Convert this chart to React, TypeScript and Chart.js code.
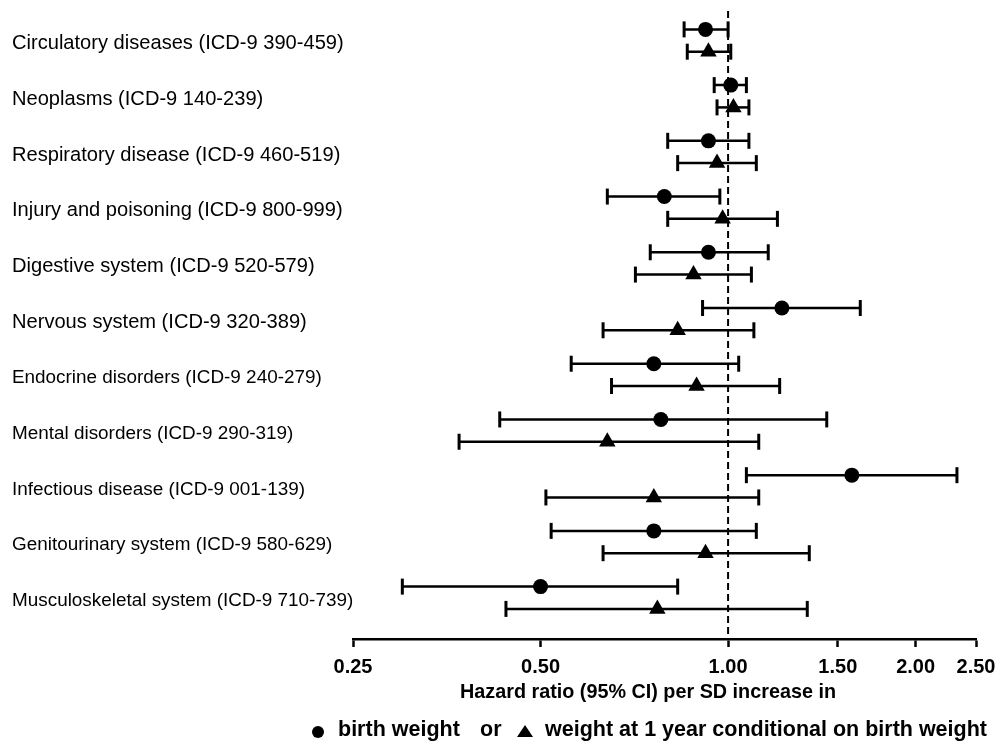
import React, { useEffect, useRef } from "react";
import { Chart, registerables } from "chart.js";

Chart.register(...registerables);

const categories = [
  "Circulatory diseases (ICD-9 390-459)",
  "Neoplasms (ICD-9 140-239)",
  "Respiratory disease (ICD-9 460-519)",
  "Injury and poisoning (ICD-9 800-999)",
  "Digestive system (ICD-9 520-579)",
  "Nervous system (ICD-9 320-389)",
  "Endocrine disorders (ICD-9 240-279)",
  "Mental disorders (ICD-9 290-319)",
  "Infectious disease (ICD-9 001-139)",
  "Genitourinary system (ICD-9 580-629)",
  "Musculoskeletal system (ICD-9 710-739)",
];

// Hazard ratio per SD increase in birth weight (circles)
const birthHR = [0.92, 1.01, 0.93, 0.79, 0.93, 1.22, 0.76, 0.78, 1.58, 0.76, 0.5];
const birthLo = [0.85, 0.95, 0.8, 0.64, 0.75, 0.91, 0.56, 0.43, 1.07, 0.52, 0.3];
const birthHi = [1.0, 1.07, 1.08, 0.97, 1.16, 1.63, 1.04, 1.44, 2.33, 1.11, 0.83];

// Hazard ratio per SD increase in weight at 1 year conditional on birth weight (triangles)
const yearHR = [0.93, 1.02, 0.96, 0.98, 0.88, 0.83, 0.89, 0.64, 0.76, 0.92, 0.77];
const yearLo = [0.86, 0.96, 0.83, 0.8, 0.71, 0.63, 0.65, 0.37, 0.51, 0.63, 0.44];
const yearHi = [1.01, 1.08, 1.11, 1.2, 1.09, 1.1, 1.21, 1.12, 1.12, 1.35, 1.34];

const xTicks = [0.25, 0.5, 1.0, 1.5, 2.0, 2.5];
const xTickLabels = ["0.25", "0.50", "1.00", "1.50", "2.00", "2.50"];
const referenceHR = 1.0;

const xAxisTitle = "Hazard ratio (95% CI) per SD increase in";
const legendBirth = "birth weight";
const legendOr = "or";
const legendYear = "weight at 1 year conditional on birth weight";

const FONT = "'Liberation Sans', Arial, Helvetica, sans-serif";
const ROW_SHIFT = 0.2;
const Y_MIN = -0.53;
const Y_MAX = 10.74;

const unclipLabels = {
  id: "unclipLabels",
  afterLayout(chart: any) {
    const y = chart.scales.y;
    if (y) y.right = y.right + 40;
  },
};

export default function App() {
  const canvasRef = useRef<HTMLCanvasElement | null>(null);

  useEffect(() => {
    const canvas = canvasRef.current;
    if (!canvas) return;

    const ciStyle = {
      showLine: true,
      borderColor: "#000",
      borderWidth: 2.5,
      pointStyle: "line",
      pointRotation: 90,
      pointRadius: 8,
      pointBorderWidth: 3,
      pointBorderColor: "#000",
      pointBackgroundColor: "#000",
    };

    const ciDatasets: any[] = [];
    categories.forEach((_, i) => {
      ciDatasets.push({
        ...ciStyle,
        data: [
          { x: birthLo[i], y: i - ROW_SHIFT },
          { x: birthHi[i], y: i - ROW_SHIFT },
        ],
      });
      ciDatasets.push({
        ...ciStyle,
        data: [
          { x: yearLo[i], y: i + ROW_SHIFT },
          { x: yearHi[i], y: i + ROW_SHIFT },
        ],
      });
    });

    const chart = new Chart(canvas, {
      type: "scatter",
      data: {
        datasets: [
          {
            data: birthHR.map((v, i) => ({ x: v, y: i - ROW_SHIFT })),
            pointStyle: "circle",
            pointRadius: 7.5,
            backgroundColor: "#000",
            borderColor: "#000",
            borderWidth: 0,
          },
          {
            data: yearHR.map((v, i) => ({ x: v, y: i + ROW_SHIFT })),
            pointStyle: "triangle",
            pointRadius: 9.5,
            backgroundColor: "#000",
            borderColor: "#000",
            borderWidth: 0,
          },
          ...ciDatasets,
          {
            data: [
              { x: referenceHR, y: Y_MIN },
              { x: referenceHR, y: Y_MAX },
            ],
            showLine: true,
            borderColor: "#000",
            borderWidth: 2,
            borderDash: [7, 4],
            pointRadius: 0,
          },
        ],
      },
      options: {
        responsive: false,
        animation: false,
        events: [],
        clip: false as any,
        layout: { padding: { left: 12, right: 20, top: 10, bottom: 0 } },
        plugins: {
          legend: { display: false },
          tooltip: { enabled: false },
          title: { display: false },
        },
        scales: {
          x: {
            type: "logarithmic",
            position: "bottom",
            min: 0.25,
            max: 2.5,
            afterBuildTicks: (scale: any) => {
              scale.ticks = xTicks.map((v) => ({ value: v }));
            },
            afterFit: (scale: any) => {
              scale.height = 102;
              scale.paddingLeft = 0;
              scale.paddingRight = 0;
            },
            grid: {
              display: true,
              drawOnChartArea: false,
              drawTicks: true,
              tickLength: 8,
              tickWidth: 2.5,
              tickColor: "#000",
              color: "#000",
            },
            border: { display: true, color: "#000", width: 2.5 },
            ticks: {
              autoSkip: false,
              maxRotation: 0,
              minRotation: 0,
              padding: 8,
              color: "#000",
              font: { family: FONT, size: 20, weight: "bold" },
              callback: (v: any) => {
                const idx = xTicks.findIndex((t) => Math.abs(t - Number(v)) < 1e-9);
                return idx >= 0 ? xTickLabels[idx] : "";
              },
            },
          },
          y: {
            type: "linear",
            position: "left",
            reverse: true,
            min: Y_MIN,
            max: Y_MAX,
            afterBuildTicks: (scale: any) => {
              scale.ticks = categories.map((_, i) => ({ value: i }));
            },
            afterFit: (scale: any) => {
              scale.width = 341;
              scale.paddingTop = 0;
              scale.paddingBottom = 0;
            },
            grid: { display: false },
            border: { display: false },
            ticks: {
              autoSkip: false,
              crossAlign: "far",
              labelOffset: 3,
              color: "#000",
              font: (ctx: any) => ({ family: FONT, size: ctx.index < 6 ? 20.1 : 18.9 }),
              callback: (v: any) => categories[Math.round(Number(v))] ?? "",
            },
          },
        },
      } as any,
      plugins: [unclipLabels],
    });

    return () => chart.destroy();
  }, []);

  const boldText: React.CSSProperties = {
    position: "absolute",
    fontFamily: FONT,
    fontWeight: "bold",
    whiteSpace: "nowrap",
    color: "#000",
  };

  return (
    <div style={{ position: "absolute", left: 0, top: 0, width: 996, height: 741, background: "#fff", overflow: "hidden" }}>
      <canvas ref={canvasRef} width={996} height={741} style={{ position: "absolute", left: 0, top: 0 }} />
      <div style={{ ...boldText, fontSize: 19.8, lineHeight: "19.8px", left: 648, top: 682, transform: "translateX(-50%)" }}>
        {xAxisTitle}
      </div>
      <div
        style={{
          position: "absolute",
          left: 312,
          top: 726,
          width: 12,
          height: 12,
          borderRadius: "50%",
          background: "#000",
        }}
      />
      <div style={{ ...boldText, fontSize: 21.5, lineHeight: "21.5px", left: 338, top: 719 }}>{legendBirth}</div>
      <div style={{ ...boldText, fontSize: 21.5, lineHeight: "21.5px", left: 480, top: 719 }}>{legendOr}</div>
      <div
        style={{
          position: "absolute",
          left: 517,
          top: 725,
          width: 0,
          height: 0,
          borderLeft: "8px solid transparent",
          borderRight: "8px solid transparent",
          borderBottom: "12px solid #000",
        }}
      />
      <div style={{ ...boldText, fontSize: 21.5, lineHeight: "21.5px", left: 545, top: 719 }}>{legendYear}</div>
    </div>
  );
}
